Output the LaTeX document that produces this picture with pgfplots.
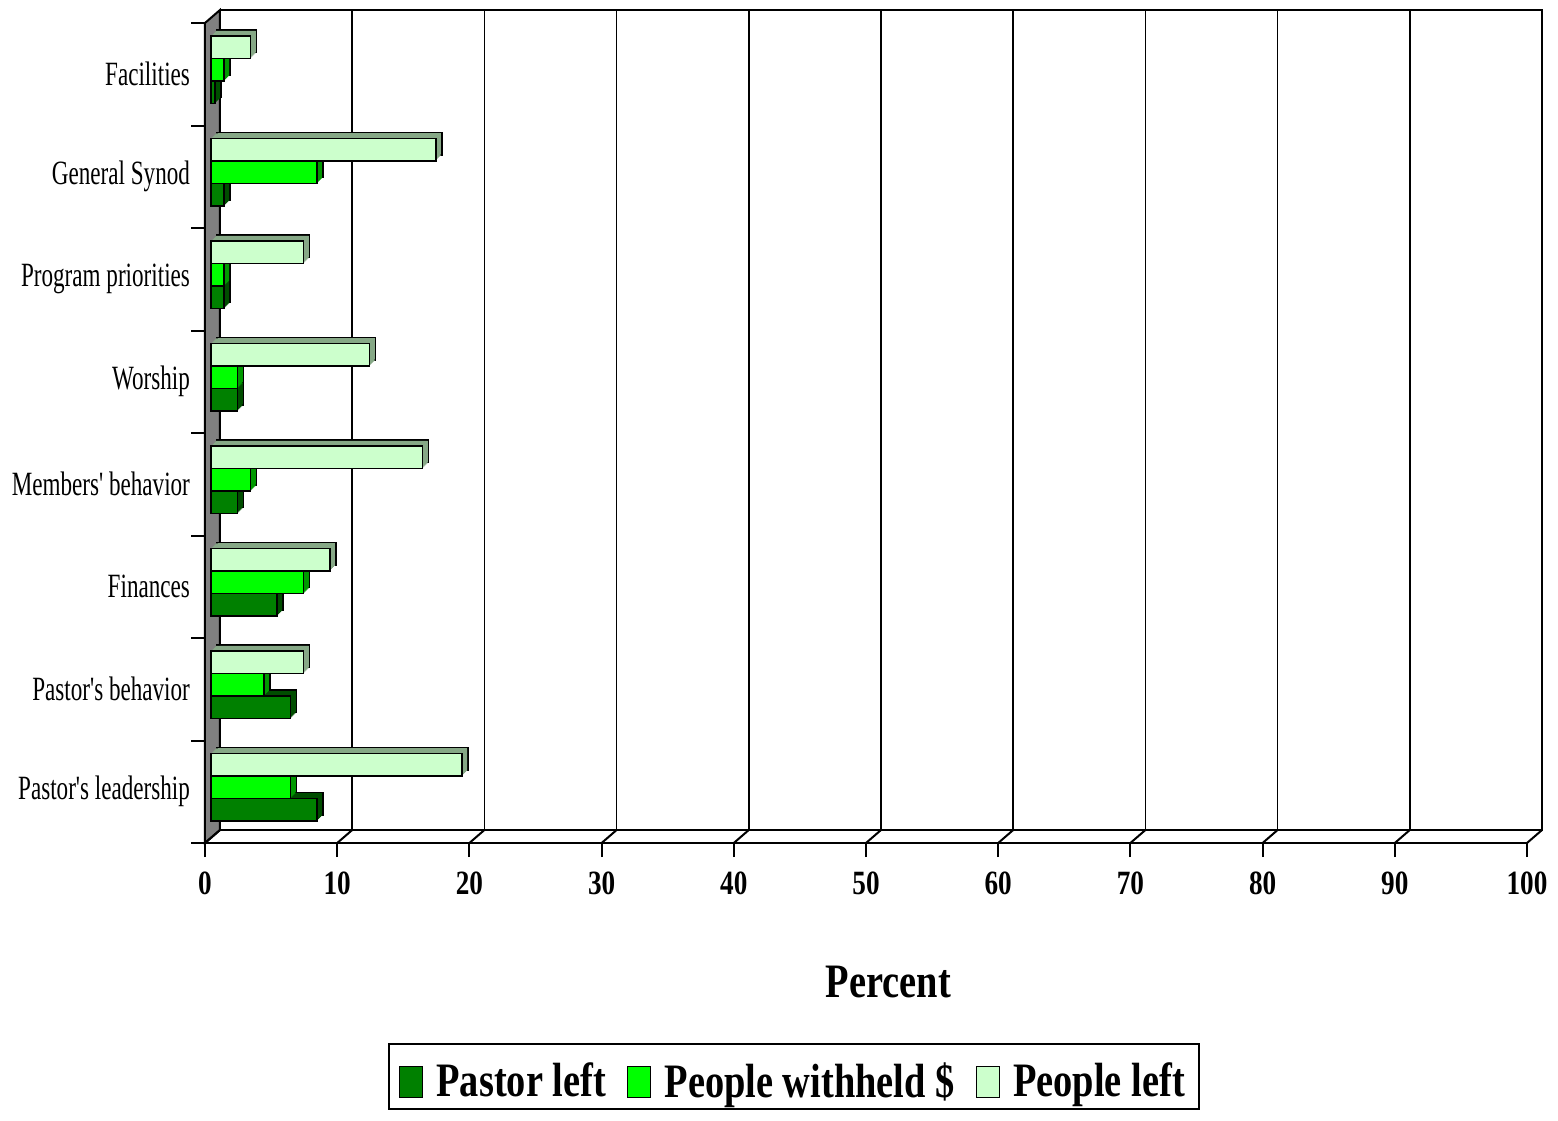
\documentclass[border=0pt]{standalone}
\usepackage{fontspec}
\setmainfont{Liberation Serif}[FakeStretch=0.68, Ligatures=TeXOff]
\newfontfamily\bcond{Liberation Serif}[FakeStretch=0.8]
\usepackage{pgfplots}
\pgfplotsset{compat=1.18}
\usepackage{pgfplotstable}

\definecolor{pl}{HTML}{008000}
\definecolor{plx}{HTML}{004D00}
\definecolor{pw}{HTML}{00FF00}
\definecolor{pwx}{HTML}{009900}
\definecolor{pp}{HTML}{CCFFCC}
\definecolor{ppx}{HTML}{86A886}
\definecolor{wall}{HTML}{808080}

\pgfplotsset{mylegend/.style={legend image code/.code={%
  \draw[##1, xshift=-3pt, yshift=-2.25pt, draw=black, line width=0.7pt] (0pt,-8pt) rectangle (11.5pt,7.5pt);
  \path (0pt,13.5pt) (13pt,0pt);}}}

\pgfplotstableread{
y pastor withheld people
0 8 6 19
1 6 4 7
2 5 7 9
3 2 3 16
4 2 2 12
5 1 1 7
6 1 8 17
7 0.3 1 3
}\data

\newcommand\barseries[4]{%
 \addplot[forget plot, fill=#3, draw=black, line width=0.8pt, bar shift=#4, xshift=6pt, yshift=5.25pt] table[x=#1,y=y]{\data};
 \addplot[forget plot, fill=#3, draw=none, bar shift=#4, xshift=5.5pt, yshift=4.75pt] table[x=#1,y=y]{\data};
 \addplot[forget plot, fill=#3, draw=none, bar shift=#4, xshift=5pt, yshift=4.25pt] table[x=#1,y=y]{\data};
 \addplot[forget plot, fill=#3, draw=none, bar shift=#4, xshift=4.5pt, yshift=3.75pt] table[x=#1,y=y]{\data};
 \addplot[forget plot, fill=#3, draw=none, bar shift=#4, xshift=4pt, yshift=3.25pt] table[x=#1,y=y]{\data};
 \addplot[forget plot, fill=#3, draw=none, bar shift=#4, xshift=3.5pt, yshift=2.75pt] table[x=#1,y=y]{\data};
 \addplot[fill=#2, draw=black, line width=0.8pt, bar shift=#4, xshift=3pt, yshift=2.25pt, mylegend]
   table[x=#1,y=y]{\data};
}

\begin{document}
\begin{tikzpicture}
\useasboundingbox (-102.5pt,-138.5pt) rectangle (676.5pt,421.5pt);
\begin{axis}[
  scale only axis, width=661pt, height=410pt,
  xmin=0, xmax=100, ymin=-0.5, ymax=7.5,
  clip=false,
  axis x line*=bottom, axis y line*=left,
  axis line style={line width=1pt, -},
  xbar, bar width=0.22,
  xtick={0,10,...,100},
  ytick={-0.5,0.5,...,7.5},
  yticklabels={},
  extra y ticks={0,1,...,7},
  extra y tick labels={Pastor's leadership, Pastor's behavior, Finances, Members' behavior, Worship, Program priorities, General Synod, Facilities},
  extra y tick style={major tick length=0pt},
  tick align=outside,
  major tick length=7pt,
  tick style={black, line width=1pt},
  xmajorgrids,
  major grid style={black, line width=0.8pt, xshift=7.5pt, yshift=6.5pt},
  /pgf/number format/assume math mode=true,
  xticklabel style={font=\bcond\bfseries\fontsize{17}{20}\selectfont, yshift=-4pt},
  yticklabel style={font=\fontsize{17}{20}\selectfont, xshift=-4pt},
  xlabel={Percent},
  xlabel style={font=\bcond\bfseries\fontsize{24}{28}\selectfont, at={(axis description cs:0.517,0)}, anchor=base, yshift=-77pt},
  legend columns=3,
  legend style={at={(axis description cs:0.4455,0)}, anchor=north, yshift=-100pt,
    draw=black, line width=1pt, inner xsep=5pt, inner ysep=2.5pt,
    font=\bcond\bfseries\fontsize{24}{28}\selectfont,
    /tikz/every even column/.append style={column sep=8.5pt}},
]
\fill[wall, draw=black, line width=1pt] (axis cs:0,-0.5) -- (axis cs:0,7.5) -- ([shift={(7.5pt,6.5pt)}]axis cs:0,7.5) -- ([shift={(7.5pt,6.5pt)}]axis cs:0,-0.5) -- cycle;
\draw[black, line width=1pt] ([shift={(7.5pt,6.5pt)}]axis cs:0,7.5) -- ([shift={(7.5pt,6.5pt)}]axis cs:100,7.5) -- ([shift={(7.5pt,6.5pt)}]axis cs:100,-0.5) -- ([shift={(7.5pt,6.5pt)}]axis cs:0,-0.5);
\pgfplotsinvokeforeach{0,10,20,30,40,50,60,70,80,90,100}{
  \draw[black, line width=1pt] (axis cs:#1,-0.5) -- ([shift={(7.5pt,6.5pt)}]axis cs:#1,-0.5);
}
\barseries{pastor}{pl}{plx}{-0.22}
\barseries{withheld}{pw}{pwx}{0}
\barseries{people}{pp}{ppx}{0.22}
\legend{Pastor left, People withheld \$, People left}
\end{axis}
\end{tikzpicture}
\end{document}
